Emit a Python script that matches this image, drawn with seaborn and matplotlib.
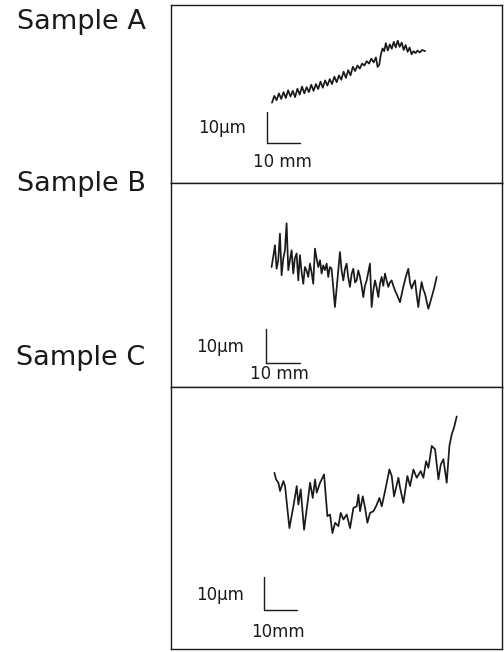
import numpy as np
import pandas as pd
import matplotlib
matplotlib.use("Agg")
import matplotlib.pyplot as plt
import seaborn as sns

# ---------------- data (position in mm, height in um) ----------------
samples = ["Sample A", "Sample B", "Sample C"]

a_x = [1.5, 2.2, 2.9, 3.6, 4.3, 5.0, 5.7, 6.4, 7.1, 7.8, 8.5, 9.2, 9.9, 10.6, 11.3,
       12.0, 12.7, 13.4, 14.1, 14.8, 15.5, 16.2, 16.9, 17.6, 18.3, 19.0, 19.7, 20.4,
       21.1, 21.8, 22.5, 23.2, 23.9, 24.6, 25.3, 26.0, 26.7, 27.4, 28.1, 28.8, 29.5,
       30.2, 30.9, 31.6, 32.3, 33.0, 33.5, 34.0, 34.5, 35.0, 35.5, 36.0, 36.6, 37.2,
       37.8, 38.4, 39.0, 39.6, 40.2, 40.8, 41.4, 42.0, 42.6, 43.2, 43.8, 44.4, 45.0,
       45.6, 46.3, 47.0, 47.9]
a_y = [13.0, 15.2, 13.8, 16.0, 14.2, 16.4, 14.5, 17.0, 15.0, 16.8, 14.8, 17.5, 15.6,
       18.2, 16.0, 18.0, 16.4, 18.8, 16.8, 19.0, 17.4, 19.8, 17.8, 20.2, 18.5, 20.6,
       19.0, 21.4, 19.6, 21.8, 20.4, 23.0, 21.0, 23.5, 21.8, 24.6, 23.2, 25.0, 24.0,
       25.6, 25.0, 26.4, 25.6, 27.2, 26.0, 27.6, 24.5, 25.2, 28.6, 30.5, 29.6, 32.2,
       29.8, 31.8, 30.4, 32.6, 30.8, 33.0, 31.0, 32.4, 30.0, 31.6, 29.4, 30.8, 28.6,
       29.6, 29.0, 29.8, 29.2, 30.0, 29.6]

b_x = [1.67, 2.15, 2.65, 3.15, 3.63, 4.12, 4.61, 5.1, 5.59, 6.08, 6.57, 7.05, 7.55,
       8.04, 8.5, 9.02, 9.51, 10.0, 10.5, 10.98, 11.47, 11.95, 12.45, 12.94, 13.42,
       13.92, 14.41, 14.9, 15.39, 15.9, 16.37, 16.85, 17.35, 17.85, 18.33, 18.8,
       19.31, 19.8, 20.29, 21.0, 21.76, 22.25, 22.75, 23.25, 23.73, 24.2, 24.71, 25.2,
       25.69, 26.2, 26.67, 27.15, 27.65, 28.15, 28.63, 29.1, 29.61, 30.1, 30.59,
       31.08, 31.55, 32.06, 32.55, 33.04, 33.5, 34.02, 34.5, 35.0, 35.5, 35.98, 36.45,
       36.96, 37.45, 37.94, 38.7, 39.41, 39.9, 40.39, 41.1, 41.86, 42.35, 42.84,
       43.3, 43.82, 44.3, 44.8, 45.3, 45.78, 46.25, 46.76, 47.25, 47.75, 48.25,
       48.73, 49.5, 50.2]
b_y = [28.0, 31.0, 34.4, 27.5, 30.0, 37.8, 25.6, 30.5, 32.9, 40.8, 27.1, 30.0, 32.9,
       26.1, 30.5, 32.0, 24.1, 31.5, 26.5, 23.1, 28.0, 27.0, 25.1, 29.0, 26.5, 23.1,
       33.4, 30.5, 28.0, 30.0, 26.1, 28.5, 27.1, 29.0, 25.1, 28.0, 27.5, 22.0, 16.3,
       24.0, 32.4, 27.0, 24.1, 27.5, 29.0, 25.0, 22.2, 26.0, 27.5, 23.5, 24.1, 27.0,
       25.1, 22.5, 19.2, 22.5, 24.1, 26.5, 29.0, 16.3, 21.0, 24.1, 22.0, 19.2, 23.0,
       25.1, 22.5, 26.1, 24.0, 22.2, 23.5, 24.1, 22.5, 21.2, 19.5, 17.7, 20.0, 22.2,
       25.0, 27.5, 23.5, 21.7, 23.0, 24.1, 20.0, 16.3, 20.5, 23.6, 21.5, 20.2, 18.0,
       15.8, 17.5, 19.2, 22.0, 25.1]

c_x = [3.13, 3.64, 4.34, 4.85, 5.86, 6.36, 7.68, 8.89, 9.90, 10.40, 11.11, 12.12,
       13.43, 13.94, 14.75, 15.45, 15.96, 16.97, 18.18, 19.19, 20.0, 20.71, 21.52,
       22.52, 23.23, 24.04, 25.05, 26.06, 27.07, 28.08, 28.59, 29.09, 29.9, 30.61,
       31.31, 32.12, 33.13, 33.94, 34.95, 35.66, 36.67, 37.98, 38.69, 39.39, 40.71,
       41.21, 42.22, 43.43, 44.24, 45.25, 46.26, 47.47, 48.28, 49.09, 49.8, 50.81,
       51.82, 52.83, 53.54, 54.34, 55.35, 56.16, 56.87, 57.58, 58.38]
c_y = [41.4, 39.4, 38.4, 35.9, 38.9, 37.4, 24.7, 31.3, 37.4, 31.8, 36.4, 24.2, 34.3,
       38.4, 33.8, 39.4, 35.4, 38.4, 40.9, 28.3, 28.8, 23.2, 26.3, 25.3, 29.3, 27.3,
       28.8, 24.7, 30.8, 31.3, 34.8, 29.8, 34.3, 30.8, 26.3, 29.3, 29.8, 31.3, 33.8,
       31.3, 35.9, 42.4, 40.4, 34.3, 39.9, 36.9, 32.3, 40.4, 37.4, 42.4, 39.9, 41.9,
       39.9, 44.9, 42.9, 49.5, 48.5, 39.4, 43.9, 45.5, 38.4, 49.5, 53.0, 55.1, 58.4]

scale_um = 10
scale_mm = 10
unit_labels = ["10\u03bcm", "10 mm", "10\u03bcm", "10 mm", "10\u03bcm", "10mm"]

# ---------------- layout ----------------
sns.set_style("white")
plt.rcParams["font.family"] = ["DejaVu Sans"]

fig = plt.figure(figsize=(5.04, 6.52), dpi=100)
W, H = 504, 652
INK = "#1a1a1a"

def fig_axes(x0, y0, x1, y1):
    return fig.add_axes([x0 / W, 1 - y1 / H, (x1 - x0) / W, (y1 - y0) / H])

panels = [
    dict(box=(171, 5, 502, 183), xlim=(-29.1, 71.2), ylim=(-12.9, 44.5),
         x=a_x, y=a_y, ul=unit_labels[0], ml=unit_labels[1],
         ul_pos=(-6.5, 4.8), ml_pos=(4.8, -6.1), label_y=22),
    dict(box=(171, 183, 502, 387), xlim=(-27.9, 69.4), ylim=(-7.1, 52.6),
         x=b_x, y=b_y, ul=unit_labels[2], ml=unit_labels[3],
         ul_pos=(-6.5, 4.5), ml_pos=(4.0, -3.2), label_y=184),
    dict(box=(171, 387, 502, 649), xlim=(-28.2, 72.1), ylim=(-11.8, 67.3),
         x=c_x, y=c_y, ul=unit_labels[4], ml=unit_labels[5],
         ul_pos=(-6.0, 4.5), ml_pos=(4.2, -6.7), label_y=358),
]

for name, p in zip(samples, panels):
    ax = fig_axes(*p["box"])
    df = pd.DataFrame({"pos": p["x"], "height": p["y"]})
    sns.lineplot(data=df, x="pos", y="height", ax=ax, color=INK,
                 linewidth=1.25, estimator=None, sort=False)
    # scale bars
    ax.plot([0, 0], [0, scale_um], color=INK, lw=1.0)
    ax.plot([0, scale_mm], [0, 0], color=INK, lw=1.0)
    ax.text(p["ul_pos"][0], p["ul_pos"][1], p["ul"], ha="right", va="center",
            fontsize=12, color=INK)
    ax.text(p["ml_pos"][0], p["ml_pos"][1], p["ml"], ha="center", va="center",
            fontsize=12, color=INK)
    ax.set_xlim(*p["xlim"])
    ax.set_ylim(*p["ylim"])
    ax.set_xticks([])
    ax.set_yticks([])
    ax.set_xlabel("")
    ax.set_ylabel("")
    for s in ax.spines.values():
        s.set_visible(True)
        s.set_color(INK)
        s.set_linewidth(1.0)
    fig.text(81 / W, 1 - p["label_y"] / H, name, ha="center", va="center",
             fontsize=19.5, color=INK)

fig.savefig("out.png", dpi=100, facecolor="white")
